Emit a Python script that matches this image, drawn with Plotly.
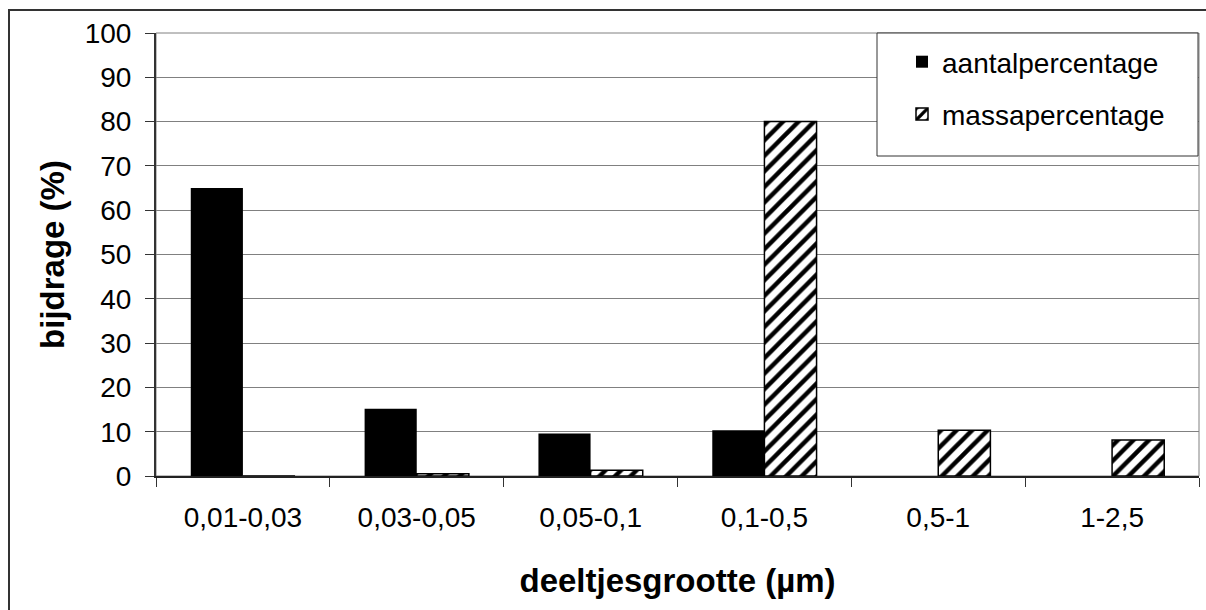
import plotly.graph_objects as go

# Particle size classes (µm) and contribution per class (%)
categories = ["0,01-0,03", "0,03-0,05", "0,05-0,1", "0,1-0,5", "0,5-1", "1-2,5"]
aantal = [65, 15.2, 9.6, 10.3, 0, 0]
massa = [0, 0.5, 1.3, 80, 10.3, 8.1]
y_ticks = list(range(0, 101, 10))

W, H = 1206, 610
L, R, T, B = 156, 7, 33, 134
pw, ph = W - L - R, H - T - B

def px_x(x):
    return (x - L) / pw

def px_y(y):
    return (H - B - y) / ph

FONT = "Liberation Sans, Arial, sans-serif"

fig = go.Figure()
fig.add_trace(go.Bar(
    x=categories, y=aantal, name="aantalpercentage", legendgroup="a",
    marker=dict(color="black", line=dict(color="black", width=0)),
))
fig.add_trace(go.Bar(
    x=categories, y=massa, name="massapercentage", legendgroup="m",
    marker=dict(color="white", line=dict(color="black", width=1.5),
                pattern=dict(shape="/", size=11, solidity=0.4,
                             fgcolor="black", bgcolor="white", fillmode="replace")),
))

shapes = [
    # outer chart frame
    dict(type="rect", xref="paper", yref="paper",
         x0=px_x(9), x1=1.05, y0=-0.4, y1=px_y(10),
         line=dict(color="#333333", width=2), layer="below"),
    # plot area frame
    dict(type="rect", xref="paper", yref="paper", x0=0, x1=1, y0=0, y1=1,
         line=dict(color="#808080", width=1), layer="below"),
    # legend box
    dict(type="rect", xref="paper", yref="paper",
         x0=px_x(877), x1=px_x(1198), y0=px_y(156), y1=px_y(33),
         line=dict(color="#333333", width=1), fillcolor="white", layer="above"),
]

fig.update_layout(
    width=W, height=H,
    margin=dict(l=L, r=R, t=T, b=B, pad=0),
    paper_bgcolor="white", plot_bgcolor="white",
    font=dict(family=FONT, size=28, color="black"),
    barmode="group", bargap=0.4, bargroupgap=0,
    shapes=shapes,
    legend=dict(
        x=px_x(902), xanchor="left", y=px_y(37), yanchor="top",
        bgcolor="rgba(0,0,0,0)", borderwidth=0,
        font=dict(family=FONT, size=28, color="black"),
        tracegroupgap=13, traceorder="grouped",
    ),
    xaxis=dict(
        type="category", tickson="boundaries",
        ticks="outside", ticklen=9, tickcolor="#333333", tickwidth=1,
        showline=True, linecolor="#222222", linewidth=2,
        showgrid=False, tickfont=dict(size=28), ticklabelstandoff=15,
        title=dict(text="<b>deeltjesgrootte (µm)</b>", font=dict(size=33), standoff=37),
        automargin=False,
    ),
    yaxis=dict(
        range=[0, 100], tickvals=y_ticks,
        ticks="outside", ticklen=9, tickcolor="#333333", tickwidth=1,
        showline=True, linecolor="#333333", linewidth=2,
        showgrid=True, gridcolor="#808080", gridwidth=1,
        zeroline=False, tickfont=dict(size=28), ticklabelstandoff=8,
        title=dict(text="<b>bijdrage (%)</b>", font=dict(size=33), standoff=10),
        automargin=False,
    ),
)

fig.write_html("out.html")
